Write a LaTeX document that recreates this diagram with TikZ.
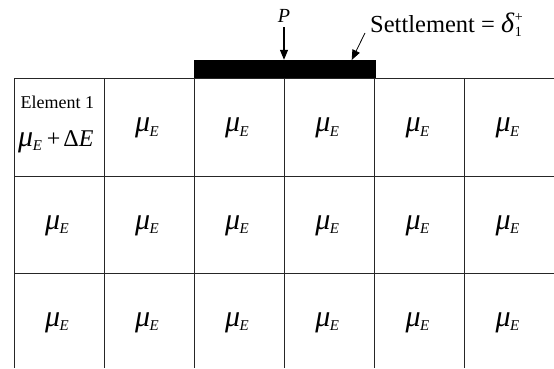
\documentclass[tikz,border=0pt]{standalone}
\usepackage{fontspec}
\setmainfont{Liberation Serif}
\usetikzlibrary{arrows.meta}
\newcommand{\muE}{{\fontsize{30}{30}\selectfont\itshape μ}\kern-0.02em\raisebox{-0.2em}{\fontsize{15}{15}\selectfont\itshape E}}
\begin{document}
\begin{tikzpicture}[x=1pt,y=1pt,
  gridline/.style={line width=1pt, draw=black!85},
  celltext/.style={inner sep=0pt, font=\fontsize{24}{28}\selectfont},
  smalltext/.style={inner sep=0pt, font=\fontsize{18}{22}\selectfont},
  arrowline/.style={line width=1.2pt, -{Triangle[length=10pt,width=8pt]}},
  leader/.style={line width=0.8pt, -{Triangle[length=10pt,width=8pt]}}
]
\useasboundingbox (0,0) rectangle (554,368);
% grid lines
\foreach \x in {14,104,194,284,374.5,464.5}
  \draw[gridline] (\x,290) -- (\x,0);
\foreach \y in {290,192,95}
  \draw[gridline] (14,\y) -- (554,\y);
% footing
\node[fill=black, draw=black, inner sep=0pt, minimum width=181pt, minimum height=17pt] (footing) at (284.5,299.5) {};
% cell labels
\foreach \cx [count=\c] in {57,147,237,327.25,417.5,507.5}{
  \foreach \cy [count=\r] in {240,142.5,45.5}{
    \ifnum\r=1 \ifnum\c=1 \else
      \node[celltext] (c\r\c) at (\cx,\cy) {\muE};
    \fi \else
      \node[celltext] (c\r\c) at (\cx,\cy) {\muE};
    \fi
  }
}
% element 1
\node[smalltext, anchor=base west] (el1) at (20.5,260) {Element 1};
\node[celltext, anchor=base west] (el1mu) at (18,222) {\muE\hspace{5pt}+\hspace{3pt}Δ\textit{E}};
% load P
\node[inner sep=0pt, anchor=base, font=\fontsize{20}{24}\selectfont\itshape] (P) at (284,346) {P};
\coordinate (Pstart) at (284,341);
\draw[arrowline] (Pstart) -- (Pstart |- footing.north);
% settlement
\node[inner sep=0pt, anchor=base west, font=\fontsize{24.5}{28}\selectfont] (settle) at (370,336)
  {Settlement = {\fontsize{28}{28}\selectfont\textit{δ}}\kern0.5pt\rlap{\raisebox{0.42em}{\fontsize{14}{14}\selectfont +}}\raisebox{-0.2em}{\fontsize{14}{14}\selectfont 1}};
\coordinate (lead) at (365,335);
\coordinate (leadtip) at (351.7,308);
\draw[leader] (lead) -- (leadtip);
\end{tikzpicture}
\end{document}
